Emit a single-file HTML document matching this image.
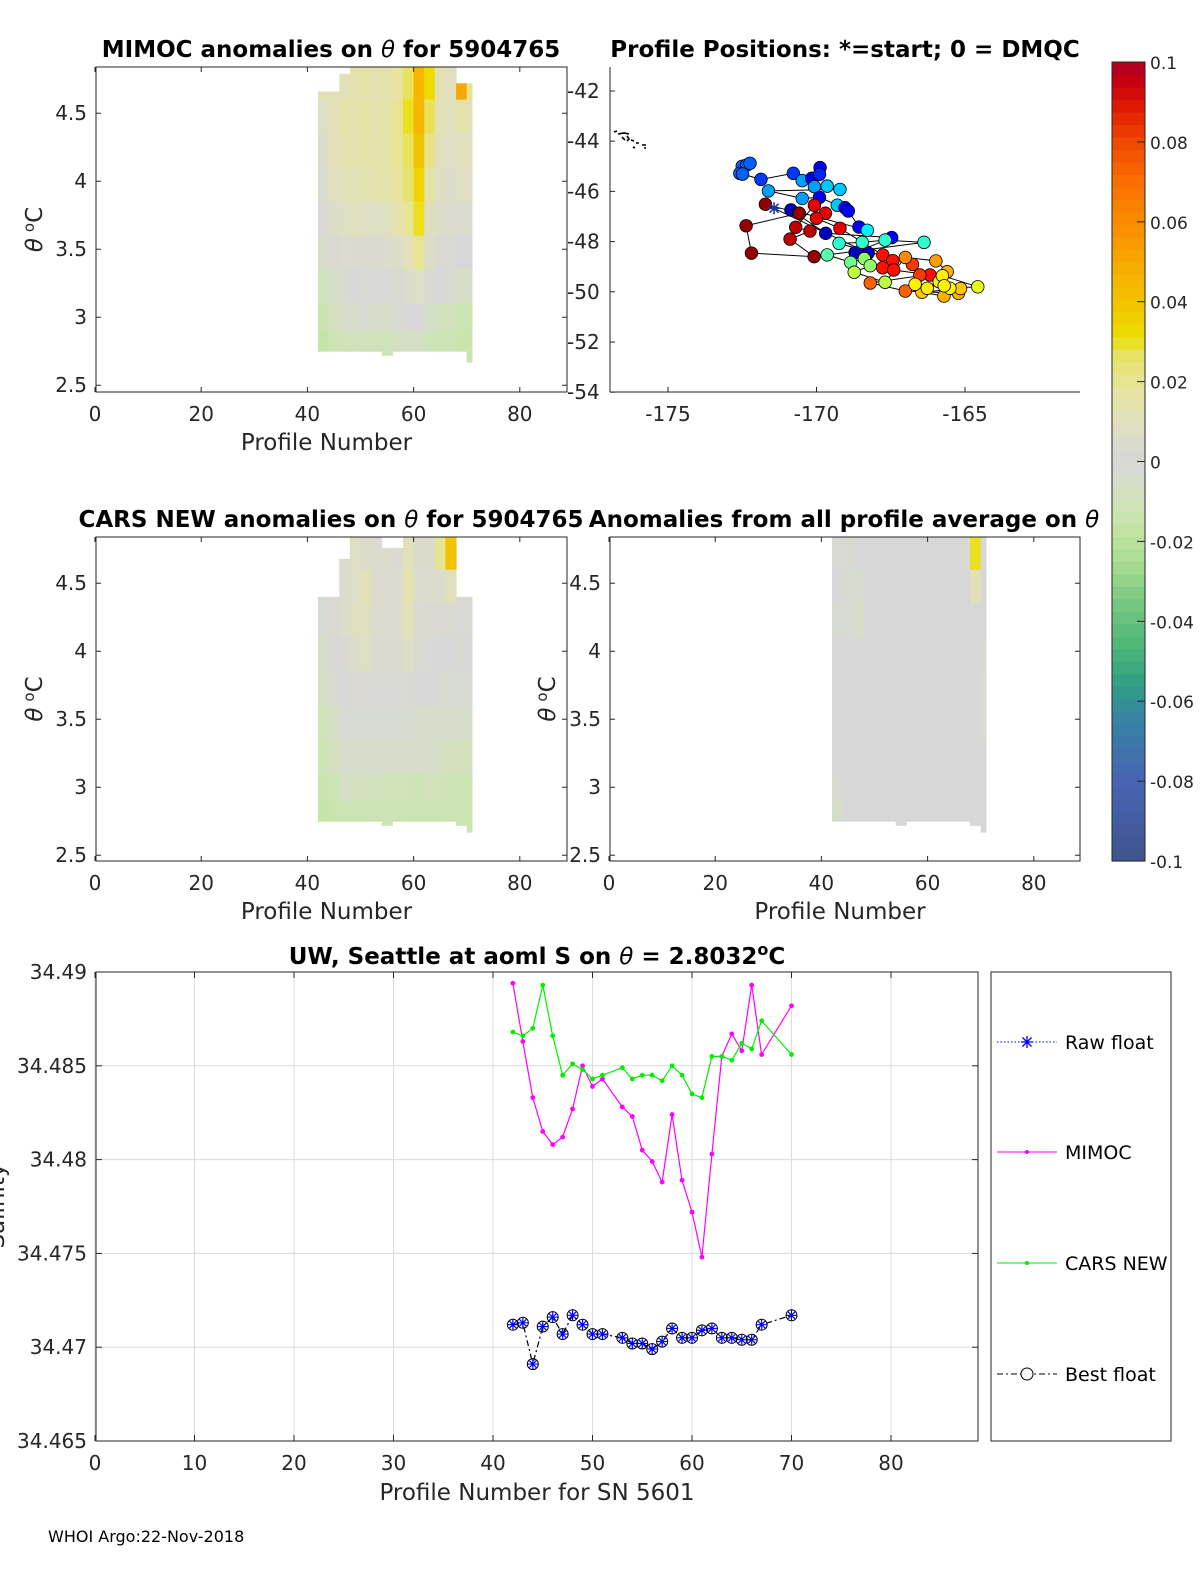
<!DOCTYPE html>
<html><head><meta charset="utf-8"><style>
html,body{margin:0;padding:0;background:#fff;overflow:hidden;width:1200px;height:1575px}
svg{display:block;font-family:"DejaVu Sans","Liberation Sans",sans-serif}
</style></head><body>
<svg id="fig" width="1200" height="1575" viewBox="0 0 1200 1575" xmlns="http://www.w3.org/2000/svg">
<rect width="1200" height="1575" fill="#fff"/>
<g id="tl"></g>
<g id="tr"></g>
<g id="ml"></g>
<g id="mr"></g>
<g id="cb"></g>
<g id="bot"></g>
<text x="48" y="1542" font-size="16">WHOI Argo:22-Nov-2018</text>
</svg>
<script>
// ---------- data ----------
const colStarts = [42,44,46,48,50,52,54,56,58,60,62,64,66,68,70];
const rowEdges = [4.85,4.6,4.35,4.1,3.85,3.6,3.35,3.1,2.9,2.6];
const mimocTop = [4.66,4.66,4.79,4.84,4.84,4.84,4.84,4.84,4.84,4.84,4.84,4.84,4.84,4.72,4.72];
const mimocBottom = [2.75,2.75,2.75,2.75,2.75,2.75,2.72,2.75,2.75,2.75,2.75,2.75,2.75,2.75,2.67];
const mimocVals = [
[0.012,0.012,0.012,0.014,0.015,0.013,0.015,0.018,0.028,0.045,0.032,0.012,0.01,0.05,0.02],
[0.008,0.012,0.015,0.015,0.016,0.014,0.016,0.02,0.03,0.045,0.028,0.012,0.01,0.015,0.012],
[0.006,0.012,0.014,0.014,0.015,0.014,0.016,0.02,0.028,0.04,0.022,0.01,0.008,0.01,0.01],
[0.004,0.01,0.012,0.012,0.013,0.014,0.015,0.018,0.025,0.035,0.016,0.008,0.006,0.008,0.008],
[0.002,0.006,0.008,0.01,0.008,0.008,0.01,0.014,0.02,0.03,0.01,0.006,0.004,0.004,0.004],
[-0.004,0.002,0.004,0.003,0.002,0.003,0.004,0.006,0.012,0.02,0.006,0.002,0.002,0,0],
[-0.01,-0.004,-0.002,0,0.001,0.001,0.001,0.002,0.004,0.008,0.002,0,-0.002,-0.004,-0.006],
[-0.014,-0.008,-0.005,-0.004,-0.003,-0.004,-0.004,-0.002,0,0,-0.006,-0.008,-0.01,-0.012,-0.014],
[-0.016,-0.012,-0.01,-0.01,-0.01,-0.01,-0.01,-0.008,-0.006,-0.006,-0.01,-0.012,-0.012,-0.014,-0.014]];
const carsTop = [4.4,4.4,4.68,4.84,4.84,4.84,4.76,4.76,4.84,4.84,4.84,4.84,4.84,4.4,4.4];
const carsBottom = [2.75,2.75,2.75,2.75,2.75,2.75,2.72,2.75,2.75,2.75,2.75,2.75,2.75,2.72,2.67];
const carsVals = [
[0,0,0.004,0.008,0.006,0.004,0.004,0.003,0.012,0.005,0.005,0.02,0.04,0,0],
[-0.002,0.002,0.004,0.008,0.012,0.004,0.004,0.004,0.014,0.004,0.004,0.005,0.01,0.002,0.002],
[-0.002,0.002,0.004,0.01,0.01,0.004,0.004,0.004,0.012,0.003,0.002,0.002,0.002,0.001,0.001],
[-0.004,0,0.002,0.006,0.008,0.003,0.003,0.003,0.008,0.002,0.001,0,0,-0.001,0],
[-0.006,-0.002,0,0.002,0.002,0.001,0.001,0.001,0.002,0,0,-0.002,-0.002,-0.002,-0.002],
[-0.01,-0.006,-0.002,-0.002,-0.002,-0.002,-0.002,-0.002,-0.002,-0.004,-0.004,-0.004,-0.004,-0.004,-0.004],
[-0.012,-0.008,-0.004,-0.004,-0.004,-0.004,-0.004,-0.004,-0.004,-0.004,-0.004,-0.006,-0.008,-0.008,-0.008],
[-0.014,-0.012,-0.006,-0.008,-0.008,-0.008,-0.01,-0.01,-0.01,-0.012,-0.01,-0.01,-0.012,-0.012,-0.012],
[-0.016,-0.014,-0.012,-0.012,-0.012,-0.012,-0.012,-0.012,-0.012,-0.012,-0.012,-0.012,-0.012,-0.012,-0.012]];
const meanTop = [4.84,4.84,4.84,4.84,4.84,4.84,4.84,4.84,4.84,4.84,4.84,4.84,4.84,4.84,4.84];
const meanBottom = [2.75,2.75,2.75,2.75,2.75,2.75,2.72,2.75,2.75,2.75,2.75,2.75,2.75,2.72,2.67];
const meanVals = [
[0.002,-0.002,0,0,0,0,0,0,0,0,0,0,0.002,0.03,0],
[0,-0.002,-0.003,0,0,0,0,0,0,0,0,0,0,0.012,0],
[-0.002,-0.002,-0.004,0,0,0,0,0,0,0,0,0,0,0,0],
[0,0,0,0,0,0,0,0,0,0,0,0,0,0,0.002],
[0,0,0,0,0,0,0,0,0,0,0,0,0,0,0.003],
[0,0,0,0,0,0,0,0,0,0,0,0,0,0,0.003],
[0,0,0,0,0,0,0,0,0,0,0,0,0,0,0],
[-0.002,0,0,0,0,0,0,0,0,0,0,0,0,0,0],
[-0.004,0,0,0,0,0,0,0,0,0,0,0,0,0,0]];

const mapLon = [-172.5,-172.35,-172.24,-172.58,-172.49,-171.87,-170.78,-170.48,-170.16,-169.88,-169.9,-170.07,-169.64,-169.21,-171.62,-170.48,-169.9,-169.3,-169.04,-168.93,-168.57,-168.29,-170.86,-169.69,-167.47,-168.7,-168.26,
-171.72,-170.58,-172.37,-172.19,-170.08,-170.89,-170.22,-170.7,-170.07,-169.7,-170.0,-169.21,-167.77,-167.43,-167.77,-167.4,-166.18,-166.52,-166.77,
-169.24,-168.46,-167.69,-166.38,-169.64,-168.85,-168.39,-168.19,-168.73,-167.69,
-167.01,-165.98,-165.6,-168.19,-167.01,-165.22,-165.71,-166.45,-165.15,
-166.68,-166.27,-165.87,-165.76,-164.57,-165.51,-165.7];
const mapLat = [-45.0,-44.95,-44.88,-45.28,-45.31,-45.52,-45.28,-45.57,-45.48,-45.05,-45.32,-45.81,-45.79,-45.92,-45.98,-46.28,-46.24,-46.55,-46.65,-46.78,-47.42,-47.55,-46.74,-47.67,-47.84,-48.44,-48.46,
-46.51,-46.87,-47.37,-48.46,-48.6,-47.9,-47.58,-47.43,-46.55,-46.87,-47.07,-47.47,-48.53,-48.76,-49.04,-49.13,-49.33,-49.33,-48.91,
-48.07,-48.03,-47.94,-48.03,-48.53,-48.83,-48.68,-48.96,-49.22,-49.62,
-48.63,-48.77,-49.2,-49.65,-49.97,-50.06,-50.17,-50.02,-49.87,
-49.7,-49.86,-49.6,-49.36,-49.8,-49.86,-49.76];
const mapVal = [0.22,0.22,0.22,0.22,0.22,0.18,0.18,0.28,0.12,0.12,0.16,0.28,0.32,0.32,0.28,0.28,0.12,0.32,0.12,0.12,0.12,0.36,0.06,0.06,0.12,0.06,0.06,
0.98,0.98,0.98,0.98,0.98,0.94,0.94,0.94,0.9,0.9,0.9,0.9,0.86,0.86,0.86,0.86,0.86,0.82,0.82,
0.42,0.42,0.42,0.42,0.46,0.48,0.52,0.52,0.56,0.56,
0.74,0.72,0.70,0.78,0.78,0.70,0.70,0.68,0.68,
0.64,0.64,0.64,0.64,0.60,0.62,0.64];
const startLon = -171.43, startLat = -46.67;

const profiles = [42,43,44,45,46,47,48,49,50,51,53,54,55,56,57,58,59,60,61,62,63,64,65,66,67,70];
const mimocS = [34.4894,34.4863,34.4833,34.4815,34.4808,34.4812,34.4827,34.4850,34.4839,34.4843,34.4828,34.4823,34.4805,34.4799,34.4788,34.4824,34.4789,34.4772,34.4748,34.4803,34.4855,34.4867,34.4858,34.4893,34.4856,34.4882];
const carsS = [34.4868,34.4866,34.4870,34.4893,34.4866,34.4845,34.4851,34.4848,34.4843,34.4845,34.4849,34.4843,34.4845,34.4845,34.4842,34.4850,34.4845,34.4835,34.4833,34.4855,34.4855,34.4853,34.4862,34.4859,34.4874,34.4856];
const floatS = [34.4712,34.4713,34.4691,34.4711,34.4716,34.4707,34.4717,34.4712,34.4707,34.4707,34.4705,34.4702,34.4702,34.4699,34.4703,34.4710,34.4705,34.4705,34.4709,34.4710,34.4705,34.4705,34.4704,34.4704,34.4712,34.4717];
const salTicks = ["34.465","34.47","34.475","34.48","34.485","34.49"];
const profTicks = [0,10,20,30,40,50,60,70,80];
const thetaTicks = ["2.5","3","3.5","4","4.5"];

// ---------- helpers ----------
const NS="http://www.w3.org/2000/svg";
function mk(parent,tag,attrs,text){const e=document.createElementNS(NS,tag);for(const k in attrs)e.setAttribute(k,attrs[k]);if(text!==undefined)e.textContent=text;parent.appendChild(e);return e;}
const stops=[[-0.1,[62,84,140]],[-0.08,[72,100,180]],[-0.065,[55,130,165]],[-0.055,[50,160,130]],[-0.045,[80,185,120]],[-0.035,[120,200,130]],[-0.025,[170,220,145]],[-0.015,[200,230,170]],[-0.005,[214,222,200]],[0,[215,215,215]],[0.008,[222,222,196]],[0.018,[230,228,160]],[0.028,[232,226,90]],[0.031,[236,222,0]],[0.04,[242,195,0]],[0.05,[248,168,0]],[0.06,[250,140,0]],[0.07,[250,110,0]],[0.08,[240,72,0]],[0.088,[225,30,0]],[0.095,[200,0,15]],[0.1,[172,0,35]]];
function cmap(v){v=Math.max(-0.1,Math.min(0.1,v));for(let i=1;i<stops.length;i++){if(v<=stops[i][0]){const a=stops[i-1],b=stops[i];const t=(v-a[0])/(b[0]-a[0]);const c=a[1].map((x,j)=>Math.round(x+(b[1][j]-x)*t));return `rgb(${c})`;}}return 'rgb(172,0,35)';}
function jet(t){t=Math.max(0,Math.min(1,t));
  const r=Math.min(1,Math.max(0,Math.min(4*t-1.5,-4*t+4.5)));
  const g=Math.min(1,Math.max(0,Math.min(4*t-0.5,-4*t+3.5)));
  const b=Math.min(1,Math.max(0,Math.min(4*t+0.5,-4*t+2.5)));
  return `rgb(${Math.round(r*255)},${Math.round(g*255)},${Math.round(b*255)})`;}

function addTitle(g,x,y,parts,name){
  const tt=mk(g,'text',{x:x,y:y,'font-size':23,'font-weight':'bold','text-anchor':'middle',fill:'#000'});
  
  
  parts.forEach(p=>mk(tt,'tspan',p[1]===1?{'font-style':'italic','font-weight':'normal'}:(p[1]===2?{dy:-9,'font-size':16}:(p[1]===3?{dy:9}:{})),p[0]));
}
function thetaYTitle(g,x,yc){
  const yt=mk(g,'text',{transform:`translate(${x},${yc}) rotate(-90)`,'font-size':23,'text-anchor':'middle',fill:'#262626'});
  
  
  mk(yt,'tspan',{'font-style':'italic'},'θ');
  mk(yt,'tspan',{dx:6,dy:-8,'font-size':15},'o');
  mk(yt,'tspan',{dy:8},'C');
}

function thetaPanel(g,x0,y0,w,h,xZero,vals,tops,bots,yTitleX,yLabelX){
  const xs=p=>xZero+p*5.31;
  const ys=t=>y0+(4.84-t)*136.0;
  colStarts.forEach((p,ci)=>{
    const pe=Math.min(p+2,71);
    for(let r=0;r<rowEdges.length-1;r++){
      const top=Math.min(rowEdges[r],tops[ci]); const bot=Math.max(rowEdges[r+1],bots[ci]);
      if(top<=bot) continue;
      const c=mk(g,'rect',{x:xs(p),y:ys(top),width:xs(pe)-xs(p)+0.5,height:ys(bot)-ys(top)+0.5,fill:cmap(vals[r][ci])});
      
      
    }
  });
  mk(g,'rect',{x:x0,y:y0,width:w,height:h,fill:'none',stroke:'#262626','stroke-width':1});
  [0,20,40,60,80].forEach(t=>{
    const X=xs(t);
    mk(g,'line',{x1:X,y1:y0+h,x2:X,y2:y0+h-5,stroke:'#262626'});
    mk(g,'line',{x1:X,y1:y0,x2:X,y2:y0+5,stroke:'#262626'});
    const tl=mk(g,'text',{x:X,y:y0+h+29,'font-size':20,'text-anchor':'middle',fill:'#262626'},String(t));
    
    
  });
  thetaTicks.forEach(s=>{
    const Y=ys(parseFloat(s));
    mk(g,'line',{x1:x0,y1:Y,x2:x0+5,y2:Y,stroke:'#262626'});
    mk(g,'line',{x1:x0+w,y1:Y,x2:x0+w-5,y2:Y,stroke:'#262626'});
    const tl=mk(g,'text',{x:yLabelX,y:Y+7,'font-size':20,'text-anchor':'end',fill:'#262626'},s);
    
    
  });
  const xt=mk(g,'text',{x:x0+w/2-5,y:y0+h+58,'font-size':23,'text-anchor':'middle',fill:'#262626'},'Profile Number');
  
  
  thetaYTitle(g,yTitleX,y0+h/2);
}

thetaPanel(document.getElementById('tl'),96,67,471,325,95,mimocVals,mimocTop,mimocBottom,42,87);
addTitle(document.getElementById('tl'),331,57,[['MIMOC anomalies on '],['θ',1],['  for 5904765']],'panel-title');
thetaPanel(document.getElementById('ml'),96,537,471,324,95,carsVals,carsTop,carsBottom,42,87);
addTitle(document.getElementById('ml'),331,527,[['CARS NEW anomalies on '],['θ',1],[' for 5904765']],'panel-title');
thetaPanel(document.getElementById('mr'),610,537,470,324,609,meanVals,meanTop,meanBottom,555,601);
addTitle(document.getElementById('mr'),844,527,[['Anomalies from all profile average on '],['θ',1]],'panel-title');

// ---------- map ----------
(function(){
  const g=document.getElementById('tr');
  const lx=lon=>668+(lon+175)*29.7;
  const ly=lat=>91+(-42-lat)*25.1;
  mk(g,'line',{x1:610,y1:392,x2:1080,y2:392,stroke:'#262626'});
  mk(g,'line',{x1:610,y1:67,x2:610,y2:392,stroke:'#262626'});
  [-175,-170,-165].forEach(t=>{
    const X=lx(t);
    mk(g,'line',{x1:X,y1:392,x2:X,y2:387,stroke:'#262626'});
    const tl=mk(g,'text',{x:X,y:421,'font-size':20,'text-anchor':'middle',fill:'#262626'},String(t));
    
    
  });
  [-42,-44,-46,-48,-50,-52,-54].forEach(t=>{
    const Y=ly(t);
    mk(g,'line',{x1:610,y1:Y,x2:615,y2:Y,stroke:'#262626'});
    const tl=mk(g,'text',{x:567,y:Y+7,'font-size':20,fill:'#262626'},String(t));
    
    
  });
  const isl=mk(g,'path',{d:'M614 132 l3 -1 M618 134 l6 -1 l5 1 M622 137 l3 3 M627 136 l2 3 l-2 2 M631 140 l3 1 M636 143 l3 0 M642 145 l4 0 M633 147 l2 1 M644 148 l2 0',fill:'none',stroke:'#000','stroke-width':1.6});
  
  
  let d='';
  mapLon.forEach((lo,i)=>{d+=(i?'L':'M')+lx(lo).toFixed(1)+' '+ly(mapLat[i]).toFixed(1);});
  mk(g,'path',{d:d,fill:'none',stroke:'#000','stroke-width':1});
  mapLon.forEach((lo,i)=>{
    const c=mk(g,'circle',{cx:lx(lo),cy:ly(mapLat[i]),r:6.3,fill:jet(mapVal[i]),stroke:'#000','stroke-width':0.8});
    
    
  });
  const sx=lx(startLon),sy=ly(startLat);
  const st=mk(g,'path',{d:`M${sx-6} ${sy}h12M${sx} ${sy-6}v12M${sx-4.5} ${sy-4.5}l9 9M${sx-4.5} ${sy+4.5}l9 -9`,stroke:'#1a3aa0','stroke-width':1.6});
  
  
  addTitle(g,845,57,[['Profile Positions: *=start; 0 = DMQC']],'panel-title');
})();

// ---------- colorbar ----------
(function(){
  const g=document.getElementById('cb');
  const y0=62,y1=861,n=64;
  for(let i=0;i<n;i++){
    const v=-0.1+(i+0.5)*0.2/n;
    const yTop=y1-(i+1)*(y1-y0)/n;
    const r=mk(g,'rect',{x:1112,y:yTop,width:33,height:(y1-y0)/n+0.6,fill:cmap(v)});
    
    
  }
  mk(g,'rect',{x:1112,y:y0,width:33,height:y1-y0,fill:'none',stroke:'#262626'});
  const labs=['-0.1','-0.08','-0.06','-0.04','-0.02','0','0.02','0.04','0.06','0.08','0.1'];
  labs.forEach((s,i)=>{
    const Y=y1-i*(y1-y0)/10;
    mk(g,'line',{x1:1137,y1:Y,x2:1145,y2:Y,stroke:'#262626'});
    const t=mk(g,'text',{x:1150,y:Y+7,'font-size':17,fill:'#262626'},s);
    
    
  });
})();

// ---------- bottom salinity chart ----------
(function(){
  const g=document.getElementById('bot');
  const x0=96,y0=972,w=882,h=469;
  const xs=p=>95+p*9.95;
  const ys=s=>972+(34.49-s)*18760;
  mk(g,'rect',{x:x0,y:y0,width:w,height:h,fill:'#fff'});
  profTicks.forEach(t=>{
    const X=xs(t);
    mk(g,'line',{x1:X,y1:y0,x2:X,y2:y0+h,stroke:'#dcdcdc'});
    mk(g,'line',{x1:X,y1:y0+h,x2:X,y2:y0+h-6,stroke:'#262626'});
    mk(g,'line',{x1:X,y1:y0,x2:X,y2:y0+6,stroke:'#262626'});
    const tl=mk(g,'text',{x:X,y:y0+h+29,'font-size':20,'text-anchor':'middle',fill:'#262626'},String(t));
    
    
  });
  salTicks.forEach(s=>{
    const Y=ys(parseFloat(s));
    mk(g,'line',{x1:x0,y1:Y,x2:x0+w,y2:Y,stroke:'#dcdcdc'});
    mk(g,'line',{x1:x0,y1:Y,x2:x0+6,y2:Y,stroke:'#262626'});
    mk(g,'line',{x1:x0+w,y1:Y,x2:x0+w-6,y2:Y,stroke:'#262626'});
    const tl=mk(g,'text',{x:87,y:Y+7,'font-size':20,'text-anchor':'end',fill:'#262626'},s);
    
    
  });
  mk(g,'rect',{x:x0,y:y0,width:w,height:h,fill:'none',stroke:'#262626'});
  function line(vals,color,dash,name){
    let d='';vals.forEach((v,i)=>{d+=(i?'L':'M')+xs(profiles[i]).toFixed(1)+' '+ys(v).toFixed(1);});
    const p=mk(g,'path',{d:d,fill:'none',stroke:color,'stroke-width':1.2,'stroke-dasharray':dash||'none'});
    
    
  }
  line(mimocS,'#ff00ff',null,'mimoc-line');
  mimocS.forEach((v,i)=>{const c=mk(g,'circle',{cx:xs(profiles[i]),cy:ys(v),r:2.4,fill:'#ff00ff'});
    
    });
  line(carsS,'#00ee00',null,'cars-line');
  carsS.forEach((v,i)=>{const c=mk(g,'circle',{cx:xs(profiles[i]),cy:ys(v),r:2.4,fill:'#00ee00'});
    
    });
  line(floatS,'#000','6 3 2 3','best-float-line');
  floatS.forEach((v,i)=>{
    const X=xs(profiles[i]),Y=ys(v);
    const c=mk(g,'circle',{cx:X,cy:Y,r:5.5,fill:'none',stroke:'#000','stroke-width':1});
    
    
    mk(g,'path',{d:`M${X-5} ${Y}h10M${X} ${Y-5}v10M${X-3.5} ${Y-3.5}l7 7M${X-3.5} ${Y+3.5}l7 -7`,stroke:'#0000ff','stroke-width':1.2});
  });
  addTitle(g,537,964,[['UW, Seattle at aoml S on '],['θ',1],[' = 2.8032'],['o',2],['C',3]],'chart-title');
  const xt=mk(g,'text',{x:537,y:1500,'font-size':23,'text-anchor':'middle',fill:'#262626'},'Profile Number for SN 5601');
  
  
  const yt=mk(g,'text',{transform:'translate(4,1206) rotate(-90)','font-size':23,'text-anchor':'middle',fill:'#262626'},'Salinity');
  
  
  const lg=mk(g,'g',{});
  
  
  mk(lg,'rect',{x:991,y:972,width:180,height:469,fill:'#fff',stroke:'#262626'});
  const entries=[['Raw float',1042,'raw'],['MIMOC',1152,'mimoc'],['CARS NEW',1263,'cars'],['Best float',1374,'best']];
  entries.forEach(e=>{
    const eg=mk(lg,'g',{});
    
    
    const Y=e[1];
    if(e[2]==='raw'){mk(eg,'line',{x1:997,y1:Y,x2:1057,y2:Y,stroke:'#0000ff','stroke-dasharray':'1.5 2'});
      mk(eg,'path',{d:`M1021 ${Y}h12M1027 ${Y-6}v12M1022.5 ${Y-4.5}l9 9M1022.5 ${Y+4.5}l9 -9`,stroke:'#0000ff','stroke-width':1.3});}
    if(e[2]==='mimoc'){mk(eg,'line',{x1:997,y1:Y,x2:1057,y2:Y,stroke:'#ff00ff'});mk(eg,'circle',{cx:1027,cy:Y,r:2,fill:'#ff00ff'});}
    if(e[2]==='cars'){mk(eg,'line',{x1:997,y1:Y,x2:1057,y2:Y,stroke:'#00ee00'});mk(eg,'circle',{cx:1027,cy:Y,r:2,fill:'#00ee00'});}
    if(e[2]==='best'){mk(eg,'line',{x1:997,y1:Y,x2:1057,y2:Y,stroke:'#000','stroke-dasharray':'6 3 2 3'});mk(eg,'circle',{cx:1027,cy:Y,r:6,fill:'#fff',stroke:'#000'});}
    mk(eg,'text',{x:1065,y:Y+7,'font-size':19,fill:'#000'},e[0]);
  });
})();
</script>
</body></html>
